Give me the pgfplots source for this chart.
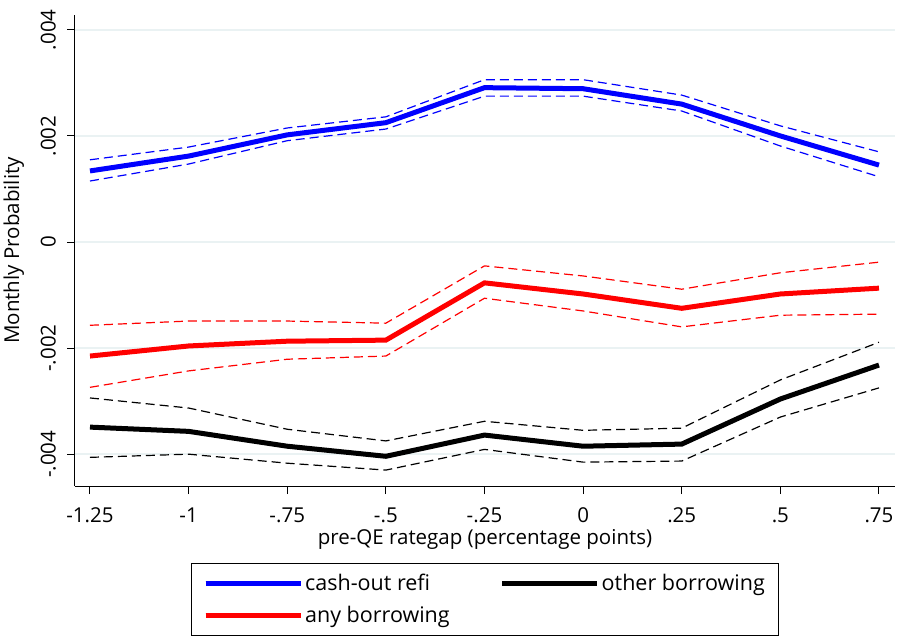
\documentclass[border=0pt]{standalone}
\usepackage{pgfplots}
\pgfplotsset{compat=1.18}
\usepackage{fontspec}
\setmainfont{Open Sans}
\definecolor{gridc}{RGB}{234,242,243}
\pgfplotstableread{
x bm bu bl rm ru rl km ku kl
-1.25 1.34 1.55 1.15 -2.15 -1.57 -2.74 -3.49 -2.94 -4.06
-1.00 1.62 1.79 1.47 -1.96 -1.49 -2.43 -3.57 -3.13 -4.00
-0.75 2.02 2.15 1.91 -1.87 -1.49 -2.21 -3.85 -3.53 -4.17
-0.50 2.25 2.36 2.13 -1.85 -1.53 -2.15 -4.04 -3.75 -4.30
-0.25 2.91 3.06 2.75 -0.77 -0.45 -1.06 -3.64 -3.38 -3.91
0.00 2.89 3.06 2.75 -0.98 -0.64 -1.30 -3.85 -3.55 -4.15
0.25 2.60 2.77 2.47 -1.25 -0.89 -1.60 -3.81 -3.51 -4.13
0.50 2.00 2.19 1.81 -0.98 -0.58 -1.38 -2.96 -2.60 -3.30
0.75 1.45 1.70 1.23 -0.87 -0.38 -1.36 -2.32 -1.89 -2.75
}\data
\begin{document}
\begin{tikzpicture}
\begin{axis}[name=ax,
  scale only axis, width=820pt, height=471pt,
  xmin=-1.288, xmax=0.7906, ymin=-4.6, ymax=4.28,
  axis x line*=bottom, axis y line*=left,
  axis line style={-, line width=1pt},
  tick align=outside, major tick length=8pt,
  tick style={line width=1pt, black},
  xtick={-1.25,-1,-0.75,-0.5,-0.25,0,0.25,0.5,0.75},
  xticklabels={-1.25,-1,-.75,-.5,-.25,0,.25,.5,.75},
  xticklabel style={yshift=-10pt},
  ytick={-4,-2,0,2,4},
  yticklabels={-.004,-.002,0,.002,.004},
  yticklabel style={rotate=90, anchor=south, inner ysep=11pt},
  ticklabel style={font=\fontsize{20.5}{24}\selectfont},
  ymajorgrids, grid style={gridc, line width=1.5pt},
  xlabel={pre-QE rategap (percentage points)},
  ylabel={Monthly Probability},
  ylabel style={yshift=2pt},
  label style={font=\fontsize{20.5}{24}\selectfont},
  legend columns=2,
  legend cell align=left,
  legend style={at={(0.5,-0.1635)}, anchor=north, draw=black, line width=1pt,
    font=\fontsize{21.5}{25}\selectfont, inner xsep=12pt, inner ysep=9pt,
    row sep=10pt,
    /tikz/every even column/.append style={column sep=48pt}},
  legend image code/.code={\draw[#1, line width=5pt] (0pt,0pt) -- (88pt,0pt);\path (0pt,0pt) -- (95pt,0pt);},
]
\addplot[blue, line width=5pt] table[x=x, y=bm] {\data};
\addlegendentry{cash-out refi}
\addplot[black, line width=5pt] table[x=x, y=km] {\data};
\addlegendentry{other borrowing}
\addplot[red, line width=5pt] table[x=x, y=rm] {\data};
\addlegendentry{any borrowing}
\addplot[blue, line width=1.2pt, dash pattern=on 9pt off 5pt, forget plot] table[x=x, y=bu] {\data};
\addplot[blue, line width=1.2pt, dash pattern=on 9pt off 5pt, forget plot] table[x=x, y=bl] {\data};
\addplot[red, line width=1.2pt, dash pattern=on 9pt off 5pt, forget plot] table[x=x, y=ru] {\data};
\addplot[red, line width=1.2pt, dash pattern=on 9pt off 5pt, forget plot] table[x=x, y=rl] {\data};
\addplot[black, line width=1.2pt, dash pattern=on 9pt off 5pt, forget plot] table[x=x, y=ku] {\data};
\addplot[black, line width=1.2pt, dash pattern=on 9pt off 5pt, forget plot] table[x=x, y=kl] {\data};
\end{axis}
\pgfresetboundingbox
\path ([xshift=-75pt,yshift=-154pt]ax.south west) rectangle ([xshift=2pt,yshift=15pt]ax.north east);
\end{tikzpicture}
\end{document}
